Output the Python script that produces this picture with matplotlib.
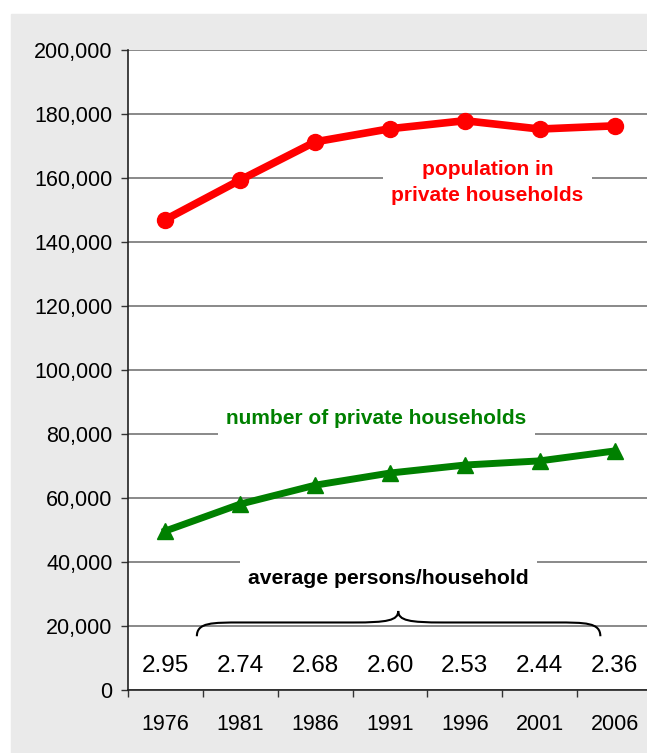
import numpy as np
import matplotlib.pyplot as plt
from matplotlib.patches import Rectangle, PathPatch
from matplotlib.path import Path
from matplotlib.ticker import FuncFormatter

plt.rcParams['font.family'] = ['Liberation Sans', 'DejaVu Sans']

# data
years = ["1976", "1981", "1986", "1991", "1996", "2001", "2006"]
population = [147000, 159400, 171300, 175400, 177900, 175300, 176300]
households = [49700, 58100, 64000, 67800, 70300, 71600, 74700]
avg_persons = ["2.95", "2.74", "2.68", "2.60", "2.53", "2.44", "2.36"]

x = np.arange(len(years))

fig = plt.figure(figsize=(6.47, 7.53), dpi=100)
fig.patches.append(Rectangle((11 / 647, 0), 1, 1 - 14 / 753,
                             transform=fig.transFigure, color="#eaeaea", zorder=-10))

ax = fig.add_axes([128 / 647, 63 / 753, 524 / 647, 640 / 753])
ax.set_facecolor("white")

ax.plot(x, population, color="#ff0000", lw=5.5, marker="o", ms=11.5, zorder=4)
ax.plot(x, households, color="#008000", lw=5, marker="^", ms=11.5, zorder=4)

ax.set_xlim(-0.5, 6.5)
ax.set_ylim(0, 200000)
ax.set_yticks(np.arange(0, 200001, 20000))
ax.yaxis.set_major_formatter(FuncFormatter(lambda v, p: f"{v:,.0f}"))
ax.grid(axis="y", color="#808080", lw=1.3, zorder=1)
ax.set_axisbelow(True)

# category boundaries get the ticks, labels sit in between
ax.set_xticks(np.arange(-0.5, 7, 1))
ax.set_xticklabels([])
ax.set_xticks(x, minor=True)
ax.set_xticklabels(years, minor=True)
ax.tick_params(axis="x", which="major", length=5, width=1, color="#333333", direction="out")
ax.tick_params(axis="x", which="minor", length=0, pad=17, labelsize=15.5)
ax.tick_params(axis="y", length=5, width=1, color="#333333", pad=6, labelsize=15.5)

for s in ["top", "right"]:
    ax.spines[s].set_visible(False)
ax.spines["left"].set_color("#222222")
ax.spines["bottom"].set_color("#222222")
ax.spines["left"].set_linewidth(1.2)
ax.spines["bottom"].set_linewidth(1.2)

box = dict(facecolor="white", edgecolor="none", pad=6)
ax.text(4.3, 158600, "population in\nprivate households", color="#ff0000",
        fontsize=15, fontweight="bold", ha="center", va="center",
        linespacing=1.5, bbox=box, zorder=3)
ax.text(2.82, 84800, "number of private households", color="#008000",
        fontsize=15, fontweight="bold", ha="center", va="center", bbox=box, zorder=3)
ax.text(2.98, 35000, "average persons/household", color="black",
        fontsize=15.2, fontweight="bold", ha="center", va="center", bbox=box, zorder=3)

for xi, a in zip(x, avg_persons):
    ax.text(xi, 7600, a, fontsize=17.5, ha="center", va="center", zorder=3)

# curly brace over the averages
x0, xm, x1 = 0.42, 3.11, 5.81
yb, yl, yt = 16800, 21100, 24700
verts = [(x0, yb),
         (x0, yl), (x0 + 0.2, yl), (x0 + 0.6, yl),
         (xm - 0.6, yl),
         (xm - 0.15, yl), (xm, yl + 600), (xm, yt),
         (xm, yl + 600), (xm + 0.15, yl), (xm + 0.6, yl),
         (x1 - 0.6, yl),
         (x1 - 0.2, yl), (x1, yl), (x1, yb)]
codes = [Path.MOVETO, Path.CURVE4, Path.CURVE4, Path.CURVE4, Path.LINETO,
         Path.CURVE4, Path.CURVE4, Path.CURVE4, Path.CURVE4, Path.CURVE4, Path.CURVE4,
         Path.LINETO, Path.CURVE4, Path.CURVE4, Path.CURVE4]
brace = PathPatch(Path(verts, codes), facecolor="none", edgecolor="black", lw=1.5, zorder=3)
ax.add_patch(brace)

fig.savefig("out.png", dpi=100)
